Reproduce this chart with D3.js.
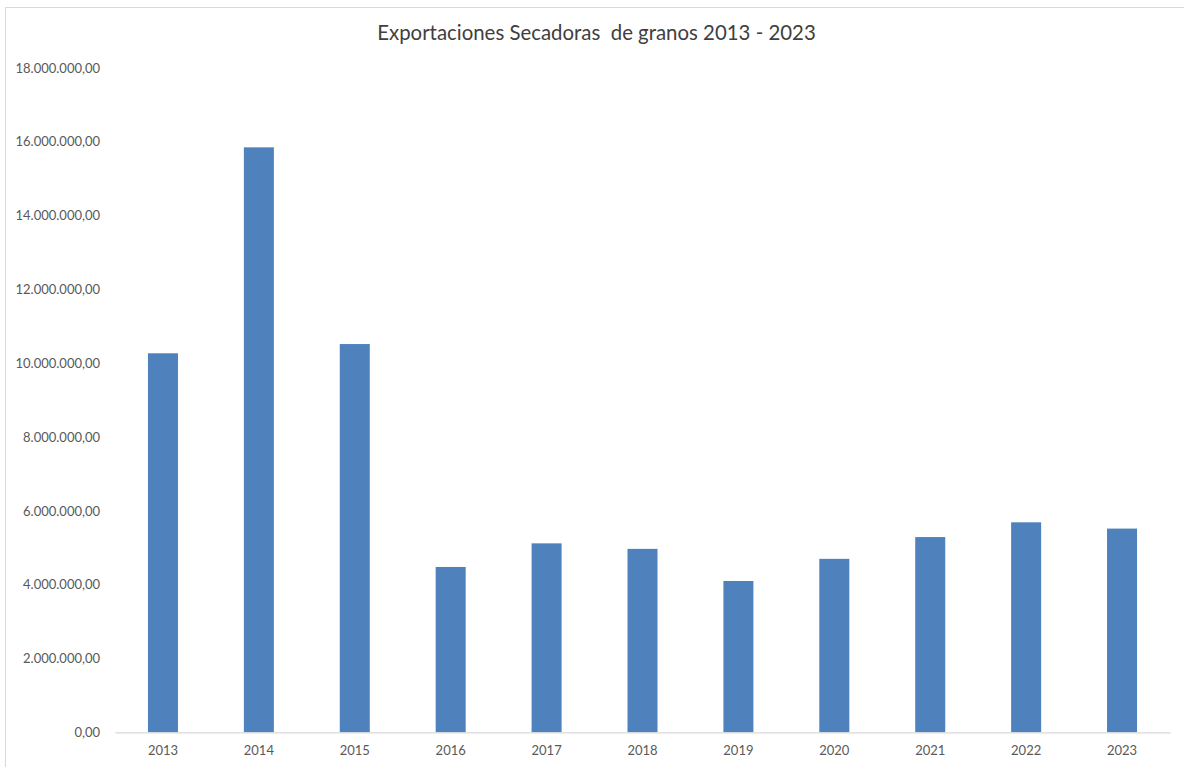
<!DOCTYPE html>
<html>
<head>
<meta charset="utf-8">
<script src="https://cdn.jsdelivr.net/npm/d3@7"></script>
<style>
  html, body { margin: 0; padding: 0; background: #ffffff; }
  svg { display: block; }
</style>
</head>
<body>
<svg id="chart" width="1184" height="767"></svg>
<script>
const title = "Exportaciones Secadoras\u00a0 de granos 2013 - 2023";
const years = ["2013","2014","2015","2016","2017","2018","2019","2020","2021","2022","2023"];
const values = [10270000, 15850000, 10520000, 4480000, 5120000, 4970000, 4100000, 4700000, 5290000, 5690000, 5520000];
const yTicks = [0, 2000000, 4000000, 6000000, 8000000, 10000000, 12000000, 14000000, 16000000, 18000000];

(function () {
const svg = d3.select("#chart");
const W = 1184, H = 767;
const mLeft = 115, mRight = 1170, mTop = 68, mBottom = 732.3;
const font = "Lato, 'Noto Sans', sans-serif";

// outer frame
svg.append("rect")
  .attr("x", 5.5).attr("y", 7.5)
  .attr("width", W + 10).attr("height", H + 10)
  .attr("fill", "#fff")
  .attr("stroke", "#d9d9d9").attr("stroke-width", 1);

const x = d3.scaleBand().domain(years).range([mLeft, mRight])
  .paddingInner(0.687).paddingOuter(0.3435);
const y = d3.scaleLinear().domain([0, 18000000]).range([mBottom, mTop]);

const fmt = v => {
  const s = d3.format(",.2f")(v);
  return s.replace(/,/g, "#").replace(/\./g, ",").replace(/#/g, ".");
};

// bars
svg.append("g").selectAll("rect").data(values).join("rect")
  .attr("x", (d, i) => x(years[i]))
  .attr("y", d => y(d))
  .attr("width", x.bandwidth())
  .attr("height", d => y(0) - y(d))
  .attr("fill", "#4f81bd");

// x axis
const xAxis = svg.append("g").attr("transform", `translate(0,${mBottom})`)
  .call(d3.axisBottom(x).tickSize(0).tickPadding(13));
xAxis.select(".domain").attr("stroke", "#d9d9d9").attr("stroke-width", 1.3);
xAxis.selectAll("text").attr("font-family", font).attr("font-size", 13).attr("fill", "#595959");

// y axis (labels only)
const yAxis = svg.append("g").attr("transform", `translate(100,0)`)
  .call(d3.axisLeft(y).tickValues(yTicks).tickFormat(fmt).tickSize(0).tickPadding(0));
yAxis.select(".domain").remove();
yAxis.selectAll("text").attr("font-family", font).attr("font-size", 13).attr("fill", "#595959");

// title
svg.append("text")
  .attr("x", 596.5).attr("y", 40)
  .attr("text-anchor", "middle")
  .attr("font-family", font).attr("font-size", 20.4)
  .attr("fill", "#404040")
  .text(title);
})();
</script>
</body>
</html>
